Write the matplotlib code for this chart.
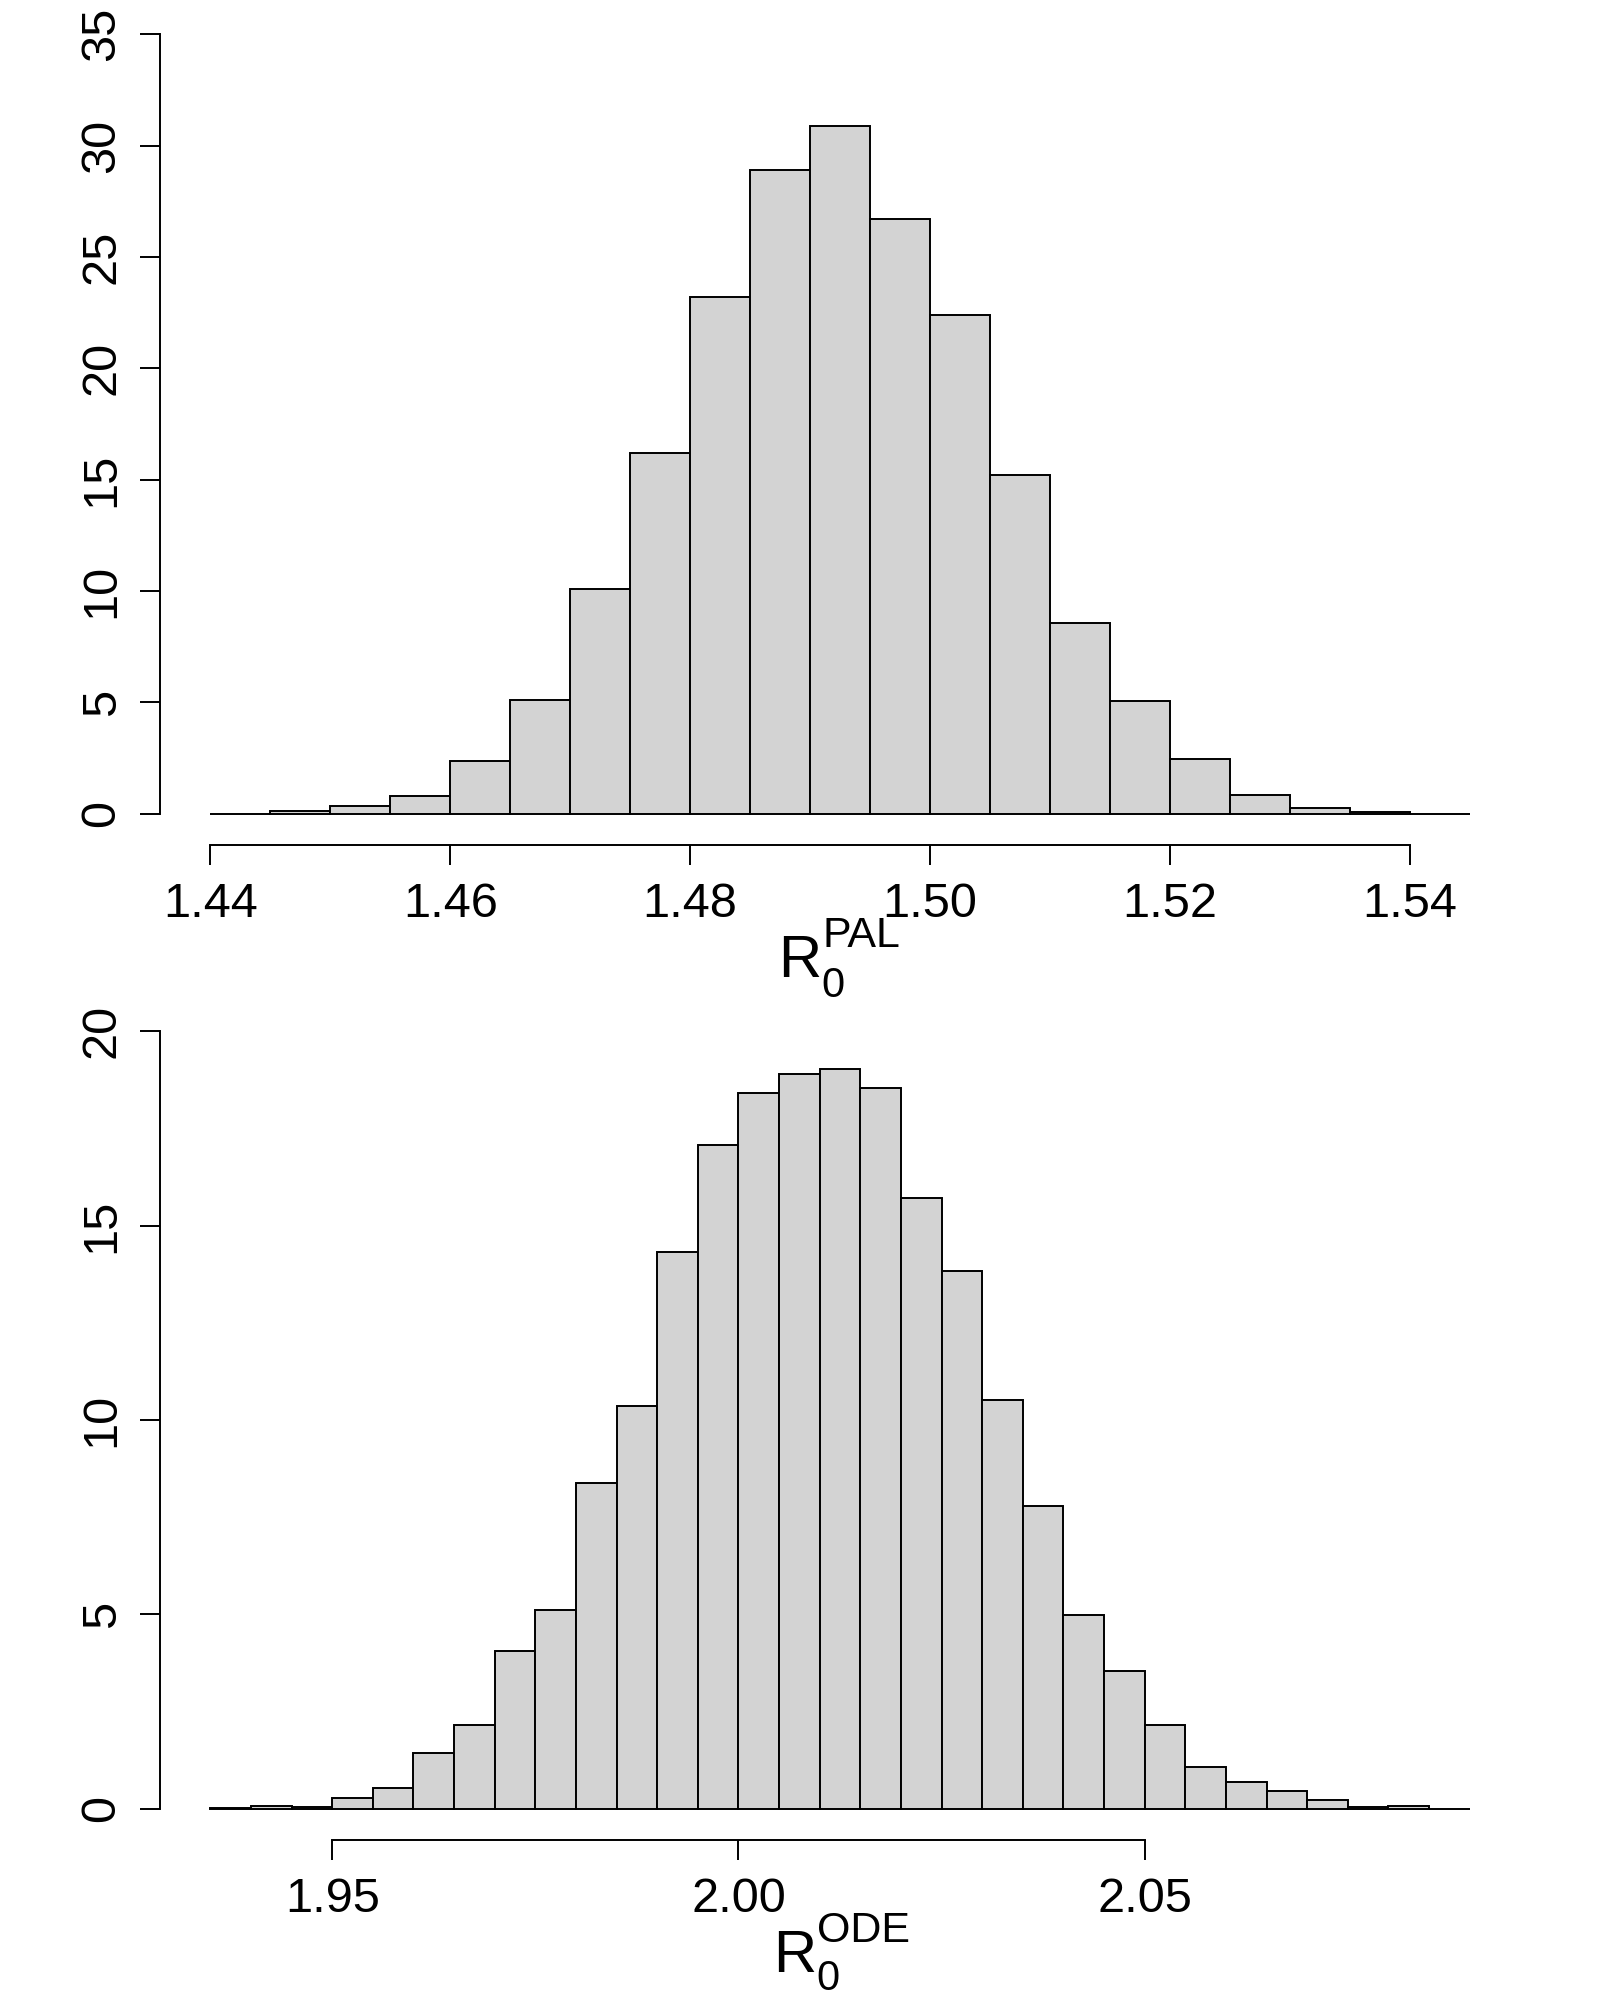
import matplotlib
matplotlib.use("Agg")
import matplotlib.pyplot as plt
import numpy as np

plt.rcParams['font.family'] = ['Liberation Sans', 'DejaVu Sans']

# ---- Data: top histogram (R0 PAL), bin width 0.005 ----
pal_bin_starts = [1.440, 1.445, 1.450, 1.455, 1.460, 1.465, 1.470, 1.475, 1.480, 1.485,
                  1.490, 1.495, 1.500, 1.505, 1.510, 1.515, 1.520, 1.525, 1.530, 1.535, 1.540]
pal_density = [0.01, 0.12, 0.33, 0.78, 2.39, 5.09, 10.10, 16.19, 23.22, 28.90,
               30.88, 26.71, 22.40, 15.22, 8.56, 5.07, 2.47, 0.86, 0.26, 0.06, 0.01]
pal_xticks = [1.44, 1.46, 1.48, 1.50, 1.52, 1.54]
pal_xticklabels = ["1.44", "1.46", "1.48", "1.50", "1.52", "1.54"]
pal_yticks = [0, 5, 10, 15, 20, 25, 30, 35]

# ---- Data: bottom histogram (R0 ODE), bin width 0.005 ----
ode_bin_starts = [1.935, 1.940, 1.945, 1.950, 1.955, 1.960, 1.965, 1.970, 1.975, 1.980,
                  1.985, 1.990, 1.995, 2.000, 2.005, 2.010, 2.015, 2.020, 2.025, 2.030,
                  2.035, 2.040, 2.045, 2.050, 2.055, 2.060, 2.065, 2.070, 2.075, 2.080, 2.085]
ode_density = [0.02, 0.07, 0.06, 0.27, 0.55, 1.44, 2.17, 4.07, 5.11, 8.37,
               10.37, 14.32, 17.06, 18.42, 18.90, 19.03, 18.55, 15.71, 13.82, 10.51,
               7.79, 4.98, 3.54, 2.16, 1.08, 0.69, 0.45, 0.23, 0.05, 0.07, 0.01]
ode_xticks = [1.95, 2.00, 2.05]
ode_xticklabels = ["1.95", "2.00", "2.05"]
ode_yticks = [0, 5, 10, 15, 20]

bin_width = 0.005

W, H = 1600, 2000
fig = plt.figure(figsize=(16, 20), dpi=100)

def make_panel(rect_px, starts, dens, xlim, ylim, xticks, xticklabels, yticks):
    l, t, r, b = rect_px
    ax = fig.add_axes([l / W, 1 - b / H, (r - l) / W, (b - t) / H])
    ax.bar(starts, dens, width=bin_width, align='edge', color='#D3D3D3',
           edgecolor='black', linewidth=1.4)
    ax.set_xlim(*xlim)
    ax.set_ylim(*ylim)
    for s in ['top', 'right']:
        ax.spines[s].set_visible(False)
    ax.spines['left'].set_bounds(yticks[0], yticks[-1])
    ax.spines['bottom'].set_bounds(xticks[0], xticks[-1])
    for s in ['left', 'bottom']:
        ax.spines[s].set_linewidth(1.4)
    ax.set_xticks(xticks)
    ax.set_xticklabels(xticklabels)
    ax.set_yticks(yticks)
    ax.set_yticklabels([str(v) for v in yticks], rotation=90, va='center')
    ax.tick_params(axis='both', direction='out', length=14.5, width=1.4,
                   labelsize=35, colors='black')
    ax.tick_params(axis='x', pad=12)
    ax.tick_params(axis='y', pad=11)
    ax.patch.set_visible(False)
    return ax

def px(x, y):
    return x / W, 1 - y / H

def r0_label(x_left, base_y, sup_text, sup_left, sup_base, sub_left, sub_base):
    fig.text(*px(x_left, base_y), 'R', fontsize=43, ha='left', va='baseline')
    fig.text(*px(sub_left, sub_base), '0', fontsize=30, ha='left', va='baseline')
    fig.text(*px(sup_left, sup_base), sup_text, fontsize=31, ha='left', va='baseline')

# top panel
ax1 = make_panel((160, 3, 1520, 845), pal_bin_starts, pal_density,
                 (1.4358, 1.5492), (-1.4, 36.4), pal_xticks, pal_xticklabels, pal_yticks)
r0_label(778, 977, 'PAL', 823, 947, 821, 997)

# bottom panel
ax2 = make_panel((160, 1000, 1520, 1840), ode_bin_starts, ode_density,
                 (1.9288, 2.0962), (-0.8, 20.8), ode_xticks, ode_xticklabels, ode_yticks)
r0_label(773, 1972, 'ODE', 817, 1942, 816, 1990)

fig.savefig("out.png", dpi=100, facecolor='white')
